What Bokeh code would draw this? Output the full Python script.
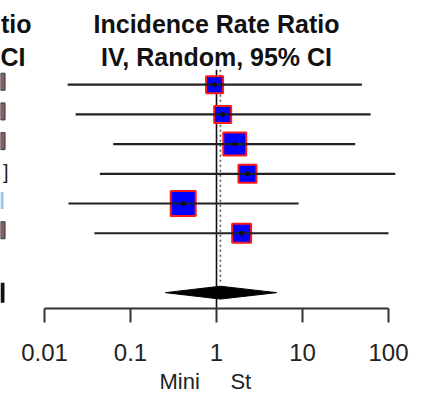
import numpy as np
from bokeh.plotting import figure
from bokeh.models import Range1d, LogAxis, FixedTicker
from bokeh.core.properties import value
from bokeh.embed import file_html
from bokeh.resources import INLINE

# ---- data ----
study_est = [0.95, 1.18, 1.63, 2.29, 0.41, 1.96]
study_lo = [0.0186, 0.023, 0.063, 0.044, 0.019, 0.038]
study_hi = [49.0, 62.0, 41.0, 120.0, 9.0, 100.0]
study_weight = [12.4, 12.4, 21.4, 13.7, 25.0, 15.1]
pooled_est = 1.11
pooled_lo = 0.255
pooled_hi = 5.0
tick_values = [0.01, 0.1, 1, 10, 100]
tick_labels = ["0.01", "0.1", "1", "10", "100"]
header_line1 = "Incidence Rate Ratio"
header_line2 = "IV, Random, 95% CI"
left_frag1 = "tio"
left_frag2 = "CI"
xlabel = "Mini" + "\u00a0" * 5 + "St" + "\u00a0" * 2

# ---- layout helpers (pixel <-> data) ----
W, H = 422, 396
X_ONE = 216.0     # pixel of ratio 1
DEC = 86.0        # pixels per decade
ROW0 = 85.0       # pixel of first study row
ROWH = 30.0       # pixels per row
FRAME_BOTTOM = 311


def px2x(px):
    return 10 ** ((px - X_ONE) / DEC)


def py2y(py):
    return -(py - ROW0) / ROWH


FONT = "Liberation Sans"

p = figure(width=W, height=H, x_axis_type="log",
           x_range=Range1d(px2x(0), px2x(W)),
           y_range=Range1d(py2y(FRAME_BOTTOM), py2y(0)),
           output_backend="svg", toolbar_location=None,
           x_axis_location=None, y_axis_location=None,
           min_border_left=0, min_border_right=0, min_border_top=0,
           min_border_bottom=H - FRAME_BOTTOM)
p.outline_line_color = None
p.xgrid.visible = False
p.ygrid.visible = False
p.background_fill_color = "white"
p.border_fill_color = "white"

ys = [-i for i in range(len(study_est))]
pooled_y = -7

# reference line at 1 and dotted line at pooled estimate
p.segment([1], [py2y(70)], [1], [py2y(FRAME_BOTTOM)], line_color="#111111", line_width=1.6)
p.segment([pooled_est], [py2y(70)], [pooled_est], [py2y(287)], line_color="#555555",
          line_width=1.6, line_dash="2 3")

# study squares
sizes = [27.0 * np.sqrt(w / 25.0) - 2 for w in study_weight]
p.scatter(study_est, ys, marker="square", size=sizes, fill_color="#0000ff",
          line_color="#ff1a1a", line_width=2)
# CIs
p.segment(study_lo, ys, study_hi, ys, line_color="#222222", line_width=2.2)
p.scatter(study_est, ys, marker="circle", size=4, fill_color="#111111", line_color="#111111")

# pooled diamond
dh = 6.5 / ROWH
p.patch([pooled_lo, pooled_est, pooled_hi, pooled_est],
        [pooled_y, pooled_y + dh, pooled_y, pooled_y - dh],
        fill_color="black", line_color="black", line_width=1)

# header texts
for txt, xp, ypix, align in [(header_line1, None, 24, "center"), (header_line2, None, 57, "center"),
                             (left_frag1, 31, 24, "right"), (left_frag2, 25, 57, "right")]:
    xv = 1 if xp is None else px2x(xp)
    p.text([xv], [py2y(ypix)], text=[txt], text_font=value(FONT), text_font_size="25px",
           text_font_style="bold", text_align=align, text_baseline="middle", text_color="#111111")

# cut-off bracket fragments at left edge
br_rows = [0, 1, 2, 5]
p.rect([px2x(2.3)] * len(br_rows), [ys[i] + 3 / ROWH for i in br_rows], width=4.5, height=17,
       width_units="screen", height_units="screen", fill_color="#8e5f58", line_color="#34384a",
       line_width=1)
p.text([px2x(8)], [ys[3] + 2 / ROWH], text=["]"], text_font=value(FONT), text_font_size="20px",
       text_align="right", text_baseline="middle", text_color="#222222")
p.rect([px2x(1.5)], [ys[4] + 3 / ROWH], width=3, height=17, width_units="screen",
       height_units="screen", fill_color="#8cc8ea", line_color=None)
p.rect([px2x(2)], [pooled_y], width=4, height=20, width_units="screen",
       height_units="screen", fill_color="#111111", line_color=None)

# axis
ax = LogAxis(ticker=FixedTicker(ticks=tick_values), bounds=(tick_values[0], tick_values[-1]))
ax.major_label_overrides = {v: l for v, l in zip(tick_values, tick_labels)}
ax.axis_line_width = 2
ax.axis_line_color = "#333333"
ax.major_tick_line_width = 2
ax.major_tick_line_color = "#333333"
ax.major_tick_out = 14
ax.major_tick_in = 0
ax.minor_tick_out = 0
ax.minor_tick_in = 0
ax.major_label_text_font = FONT
ax.major_label_text_font_size = "24px"
ax.major_label_text_color = "#222222"
ax.major_label_standoff = 21
ax.axis_label = xlabel
ax.axis_label_text_font = FONT
ax.axis_label_text_font_size = "22px"
ax.axis_label_text_font_style = "normal"
ax.axis_label_text_color = "#222222"
ax.axis_label_standoff = 5
p.add_layout(ax, "below")

open("out.html", "w").write(file_html(p, INLINE))
